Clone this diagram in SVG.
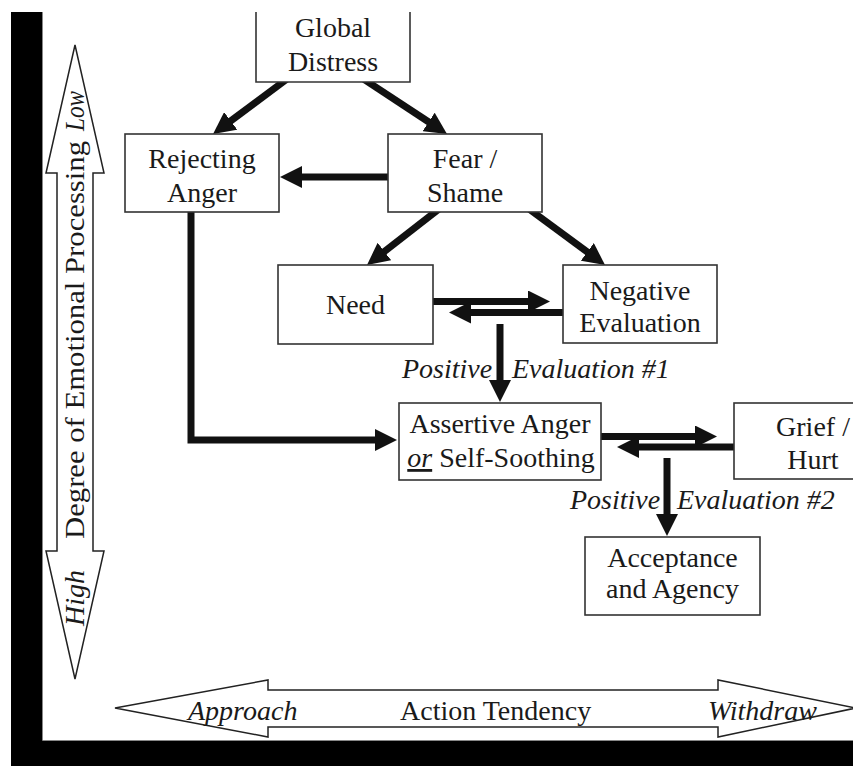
<svg xmlns="http://www.w3.org/2000/svg" width="853" height="766" viewBox="0 0 853 766">
<style>
  .box { fill: #fff; stroke: #333; stroke-width: 1.6; }
  .t { font-family: "Liberation Serif", "Times New Roman", serif; font-size: 28px; fill: #1a1a1a; }
  .c { text-anchor: middle; }
  .i { font-style: italic; }
  .con { fill: none; stroke: #111; stroke-width: 7; stroke-linejoin: miter; stroke-linecap: butt; }
  .axis { fill: #fff; stroke: #222; stroke-width: 1.5; stroke-linejoin: miter; }
</style>
<defs>
  <marker id="ah" viewBox="0 0 22 22" refX="2" refY="11" markerWidth="22" markerHeight="22" markerUnits="userSpaceOnUse" orient="auto">
    <path d="M0,0 L22,11 L0,22 z" fill="#111"/>
  </marker>
</defs>
<rect width="853" height="766" fill="#fff"/>
<g id="frame">
  <rect x="11" y="12" width="31" height="754" fill="#000"/>
  <rect x="11" y="740" width="842" height="26" fill="#000"/>
  <path d="M42.5,12 V740.5 H853" fill="none" stroke="#888" stroke-width="1"/>
</g>
<g id="axis-vertical">
  <polygon class="axis" points="75,45 104,173 93,173 93,551 104,551 75,679 46,551 57,551 57,173 46,173"/>
  <text class="t" transform="translate(84,539) rotate(-90)" textLength="398" lengthAdjust="spacingAndGlyphs">Degree of Emotional Processing</text>
  <text class="t i" transform="translate(84,131) rotate(-90)" textLength="40" lengthAdjust="spacingAndGlyphs">Low</text>
  <text class="t i" transform="translate(84,626) rotate(-90)">High</text>
</g>
<g id="axis-horizontal">
  <polygon class="axis" points="115,708 268,680 268,690 718,690 718,680 856,708 718,737 718,727 268,727 268,737"/>
  <text class="t i" x="188" y="720">Approach</text>
  <text class="t" x="400" y="720">Action Tendency</text>
  <text class="t i" x="708" y="720">Withdraw</text>
</g>
<g id="connectors">
  <path class="con" d="M287,79 L229.1,122.1" marker-end="url(#ah)"/>
  <path class="con" d="M364,79.3 L430.3,123" marker-end="url(#ah)"/>
  <path class="con" d="M395,177 L300,177" marker-end="url(#ah)"/>
  <path class="con" d="M439,209 L382.8,252.7" marker-end="url(#ah)"/>
  <path class="con" d="M529,209 L588.9,253.1" marker-end="url(#ah)"/>
  <path class="con" d="M428,301.5 L530,301.5" marker-end="url(#ah)"/>
  <path class="con" d="M570,312.5 L469,312.5" marker-end="url(#ah)"/>
  <path class="con" d="M500,324 L500,382" marker-end="url(#ah)"/>
  <path class="con" d="M191,205 L191,440 L377,440" marker-end="url(#ah)"/>
  <path class="con" d="M595,436.5 L697,436.5" marker-end="url(#ah)"/>
  <path class="con" d="M740,447 L637,447" marker-end="url(#ah)"/>
  <path class="con" d="M667,458 L667,516" marker-end="url(#ah)"/>
</g>
<g id="global-distress">
  <rect x="256" y="12" width="154" height="70" fill="#fff"/>
  <path d="M256,12 V82 H410 V12" fill="none" stroke="#333" stroke-width="1.6"/>
  <text class="t c" x="333" y="37">Global</text>
  <text class="t c" x="333" y="71">Distress</text>
</g>
<g id="rejecting-anger">
  <rect class="box" x="125" y="134" width="154" height="78"/>
  <text class="t c" x="202" y="168">Rejecting</text>
  <text class="t c" x="202" y="202">Anger</text>
</g>
<g id="fear-shame">
  <rect class="box" x="388" y="134" width="154" height="78"/>
  <text class="t c" x="465" y="168">Fear /</text>
  <text class="t c" x="465" y="202">Shame</text>
</g>
<g id="need">
  <rect class="box" x="278" y="265" width="155" height="79"/>
  <text class="t c" x="355.5" y="314">Need</text>
</g>
<g id="negative-evaluation">
  <rect class="box" x="563" y="265" width="154" height="78"/>
  <text class="t c" x="640" y="300">Negative</text>
  <text class="t c" x="640" y="332">Evaluation</text>
</g>
<g id="positive-evaluation-1">
  <text class="t i" y="378"><tspan x="402">Positive</tspan><tspan x="512">Evaluation #1</tspan></text>
</g>
<g id="assertive-anger">
  <rect class="box" x="399" y="403" width="202" height="77"/>
  <text class="t c" x="500" y="433">Assertive Anger</text>
  <text class="t c" x="501" y="467"><tspan font-style="italic" text-decoration="underline">or</tspan> Self-Soothing</text>
</g>
<g id="grief-hurt">
  <rect class="box" x="734" y="403" width="160" height="76"/>
  <text class="t c" x="813" y="436">Grief /</text>
  <text class="t c" x="813" y="469">Hurt</text>
</g>
<g id="positive-evaluation-2">
  <text class="t i" y="509"><tspan x="570">Positive</tspan><tspan x="677">Evaluation #2</tspan></text>
</g>
<g id="acceptance-agency">
  <rect class="box" x="585" y="537" width="175" height="78"/>
  <text class="t c" x="672.5" y="567">Acceptance</text>
  <text class="t c" x="672.5" y="598">and Agency</text>
</g>
</svg>
